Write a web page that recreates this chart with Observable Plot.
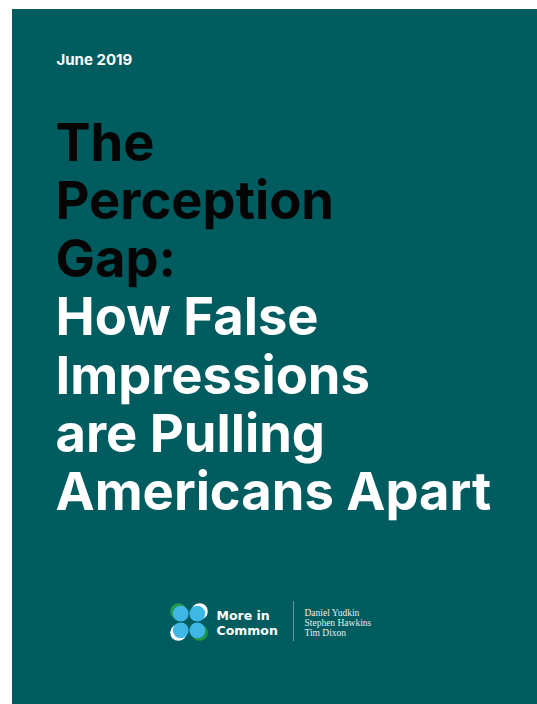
<!DOCTYPE html>
<html>
<head>
<meta charset="utf-8">
<script src="https://cdn.jsdelivr.net/npm/d3@7"></script>
<script src="https://cdn.jsdelivr.net/npm/@observablehq/plot@0.6"></script>
<style>
  html, body { margin: 0; padding: 0; background: #ffffff; }
  #chart svg { display: block; }
</style>
</head>
<body>
<div id="chart"></div>
<script>
// ---- content ----
const dateLine = ["June 2019"];
const titleDark = ["The", "Perception", "Gap:"];
const titleLight = ["How False", "Impressions", "are Pulling", "Americans Apart"];
const brandLines = ["More in", "Common"];
const authors = ["Daniel Yudkin", "Stephen Hawkins", "Tim Dixon"];
const petals = ["NW", "NE", "SW", "SE"];
const petalTone = ["green", "white", "white", "green"];

// ---- layout (kept apart from content) ----
const W = 537, H = 704;
const teal = "#005c5f";
const left = 55;
const titleTop = 160, titleStep = 58.3;
const logoC = [188.5, 621.5];
const dirs = {NW: [-1, -1], NE: [1, -1], SW: [-1, 1], SE: [1, 1]};
const toneColor = {green: "#1f9a4c", white: "#ffffff"};

const titleRows = [
  ...titleDark.map((t, i) => ({t, i, fill: "#050505"})),
  ...titleLight.map((t, i) => ({t, i: i + titleDark.length, fill: "#ffffff"}))
];
const outer = petals.map((p, i) => ({x: logoC[0] + dirs[p][0] * 10.6, y: logoC[1] + dirs[p][1] * 10.6, c: toneColor[petalTone[i]]}));
const inner = petals.map(p => ({x: logoC[0] + dirs[p][0] * 8.3, y: logoC[1] + dirs[p][1] * 8.3}));

const chart = Plot.plot({
  width: W,
  height: H,
  margin: 0,
  x: {domain: [0, W], range: [0, W], axis: null},
  y: {domain: [0, H], range: [0, H], axis: null},
  style: {background: "#ffffff"},
  marks: [
    Plot.rect([{}], {x1: 12, x2: W, y1: 9, y2: H, fill: teal}),
    Plot.text(dateLine, {x: 56, y: 64, text: d => d, textAnchor: "start", lineAnchor: "bottom",
      fontFamily: "Inter", fontWeight: 700, fontSize: 15, fill: "#ffffff"}),
    Plot.text(titleRows, {x: left, y: d => titleTop + d.i * titleStep, text: "t", textAnchor: "start", lineAnchor: "bottom",
      fontFamily: "Inter", fontWeight: 700, fontSize: 52.5, fill: d => d.fill}),
    Plot.dot(outer, {x: "x", y: "y", r: 8.2, fill: d => d.c, stroke: null}),
    Plot.dot(inner, {x: "x", y: "y", r: 7.9, fill: "#3fb7e6", stroke: null}),
    Plot.text(brandLines, {x: 216, y: (d, i) => 619 + i * 15, text: d => d, textAnchor: "start", lineAnchor: "bottom",
      fontFamily: "DejaVu Sans", fontWeight: 700, fontSize: 12.5, fill: "#ffffff"}),
    Plot.ruleX([293], {y1: 601, y2: 641, stroke: "#8fb3b3", strokeWidth: 1, strokeOpacity: 0.7}),
    Plot.text(authors, {x: 304, y: (d, i) => 615 + i * 10, text: d => d, textAnchor: "start", lineAnchor: "bottom",
      fontFamily: "Liberation Serif", fontSize: 9.5, fill: "#e8eeee"})
  ]
});
document.getElementById("chart").appendChild(chart);
</script>
</body>
</html>
